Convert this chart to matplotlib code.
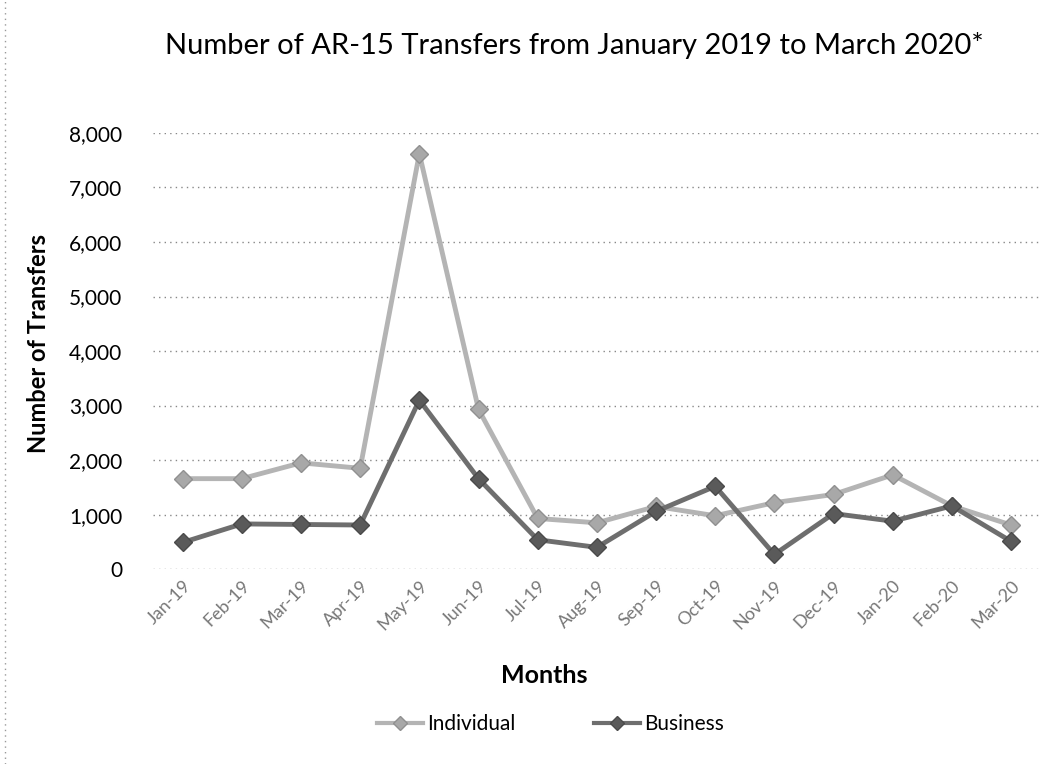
import matplotlib
matplotlib.use("Agg")
import matplotlib.pyplot as plt
from matplotlib.lines import Line2D

plt.rcParams['font.family'] = ['Lato', 'DejaVu Sans']

months = ["Jan-19", "Feb-19", "Mar-19", "Apr-19", "May-19", "Jun-19", "Jul-19",
          "Aug-19", "Sep-19", "Oct-19", "Nov-19", "Dec-19", "Jan-20", "Feb-20", "Mar-20"]
individual = [1660, 1660, 1950, 1850, 7620, 2930, 930, 850, 1150, 980, 1220, 1370, 1730, 1160, 810]
business = [490, 830, 820, 810, 3100, 1660, 540, 400, 1060, 1520, 270, 1020, 880, 1160, 510]
yticks = [0, 1000, 2000, 3000, 4000, 5000, 6000, 7000, 8000]

fig = plt.figure(figsize=(10.63, 7.64), dpi=100)
ax = fig.add_axes([0.144, 0.255, 0.835, 0.571])

x = list(range(len(months)))
ax.plot(x, individual, color="#b4b4b4", lw=3.5, marker="D", ms=9,
        mfc="#a8a8a8", mec="#909090", label="Individual", zorder=3)
ax.plot(x, business, color="#6e6e6e", lw=3.5, marker="D", ms=9,
        mfc="#5a5a5a", mec="#4a4a4a", label="Business", zorder=4)

ax.set_xlim(-0.5, len(months) - 0.5)
ax.set_ylim(0, 8000)
ax.set_yticks(yticks)
ax.set_yticklabels([f"{v:,}" for v in yticks], fontsize=15)
ax.set_xticks(x)
ax.set_xticklabels(months, rotation=45, ha="right", rotation_mode="anchor",
                   fontsize=13, color="#777777")
ax.tick_params(length=0)
ax.tick_params(axis="y", pad=22)
ax.tick_params(axis="x", pad=6)

for s in ax.spines.values():
    s.set_visible(False)
ax.grid(axis="y", linestyle=(0, (1, 3)), color="#888888", lw=1)
ax.set_axisbelow(True)

fig.text(0.54, 0.94, "Number of AR-15 Transfers from January 2019 to March 2020*",
         ha="center", va="center", fontsize=21)
fig.text(0.036, 0.55, "Number of Transfers", rotation=90, ha="center", va="center",
         fontsize=17, fontweight="bold")
fig.text(0.512, 0.116, "Months", ha="center", va="center", fontsize=18, fontweight="bold")

handles = [Line2D([], [], color="#b4b4b4", lw=3, marker="D", ms=7, mfc="#a8a8a8", mec="#909090"),
           Line2D([], [], color="#6e6e6e", lw=3, marker="D", ms=7, mfc="#5a5a5a", mec="#4a4a4a")]
fig.legend(handles, ["Individual", "Business"], loc="center", bbox_to_anchor=(0.518, 0.052),
           ncol=2, frameon=False, fontsize=15, handlelength=2.2, handletextpad=0.2,
           columnspacing=3.8)

# dotted chart border on the left edge
fig.add_artist(Line2D([0.005, 0.005], [0.0, 1.0], transform=fig.transFigure,
                      color="#999999", lw=1, linestyle=(0, (1, 3))))

fig.savefig("out.png", dpi=100)
